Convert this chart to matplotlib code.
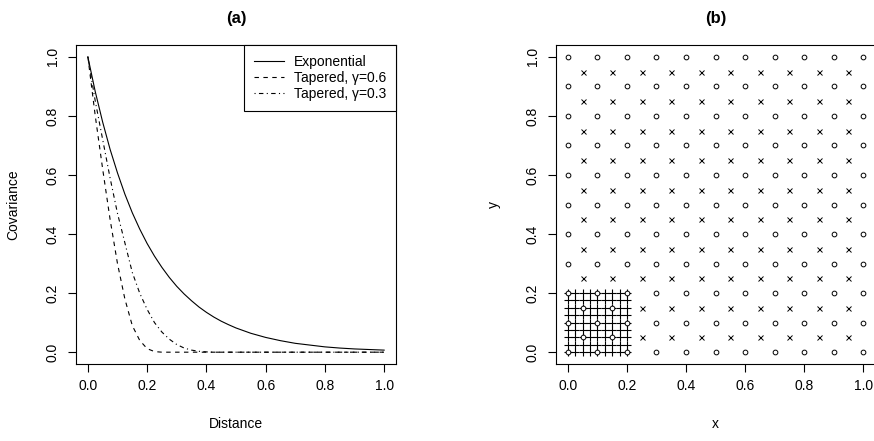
import numpy as np
import matplotlib
matplotlib.use("Agg")
import matplotlib.pyplot as plt

plt.rcParams['font.family'] = ['Liberation Sans', 'DejaVu Sans']
plt.rcParams['font.size'] = 10

# ---- panel (a): covariance curves ----
dist = [0.0, 0.025, 0.05, 0.075, 0.1, 0.125, 0.15, 0.175, 0.2, 0.225, 0.25,
        0.275, 0.3, 0.325, 0.35, 0.375, 0.4, 0.425, 0.45, 0.475, 0.5,
        0.55, 0.6, 0.65, 0.7, 0.75, 0.8, 0.85, 0.9, 0.95, 1.0]
cov_exp = [1.000, 0.882, 0.779, 0.687, 0.607, 0.535, 0.472, 0.417, 0.368, 0.325, 0.287,
           0.253, 0.223, 0.197, 0.174, 0.153, 0.135, 0.119, 0.105, 0.093, 0.082,
           0.064, 0.050, 0.039, 0.030, 0.024, 0.018, 0.014, 0.011, 0.009, 0.007]
cov_tap06 = [1.000, 0.800, 0.620, 0.450, 0.300, 0.180, 0.090, 0.040, 0.012, 0.002, 0.0,
             0.0, 0.0, 0.0, 0.0, 0.0, 0.0, 0.0, 0.0, 0.0, 0.0,
             0.0, 0.0, 0.0, 0.0, 0.0, 0.0, 0.0, 0.0, 0.0, 0.0]
cov_tap03 = [1.000, 0.850, 0.720, 0.590, 0.470, 0.370, 0.270, 0.200, 0.145, 0.100, 0.068,
             0.044, 0.026, 0.014, 0.007, 0.003, 0.001, 0.0, 0.0, 0.0, 0.0,
             0.0, 0.0, 0.0, 0.0, 0.0, 0.0, 0.0, 0.0, 0.0, 0.0]
legend_labels = ['Exponential', 'Tapered, γ=0.6', 'Tapered, γ=0.3']

# ---- panel (b): design points ----
coarse = [0.0, 0.1, 0.2, 0.3, 0.4, 0.5, 0.6, 0.7, 0.8, 0.9, 1.0]
offset = [0.05, 0.15, 0.25, 0.35, 0.45, 0.55, 0.65, 0.75, 0.85, 0.95]
box_fine = [0.0, 0.025, 0.05, 0.075, 0.1, 0.125, 0.15, 0.175, 0.2]
box_lim = 0.2

ticks = [0.0, 0.2, 0.4, 0.6, 0.8, 1.0]
tick_labels = ['0.0', '0.2', '0.4', '0.6', '0.8', '1.0']

W, H = 874, 441
fig = plt.figure(figsize=(W / 100, H / 100), dpi=100)


def px_axes(l, r, t, b):
    return fig.add_axes([l / W, 1 - b / H, (r - l) / W, (b - t) / H])


def r_style(ax, xlabel, ylabel, title):
    # base-R look: 4% padding, rotated y labels, outward ticks
    ax.set_xlim(-0.04, 1.04)
    ax.set_ylim(-0.04, 1.04)
    ax.set_xticks(ticks)
    ax.set_xticklabels(tick_labels)
    ax.set_yticks(ticks)
    ax.set_yticklabels(tick_labels, rotation=90, va='center')
    ax.tick_params(length=5.8, width=0.8, color='black')
    ax.tick_params(axis='x', pad=5)
    ax.tick_params(axis='y', pad=6)
    for s in ax.spines.values():
        s.set_linewidth(0.8)
    ax.set_xlabel(xlabel, labelpad=17)
    ax.set_ylabel(ylabel, labelpad=18)
    ax.set_title(title, fontweight='bold', fontsize=12, pad=16)


# (a)
ax1 = px_axes(76, 396, 45, 364)
ax1.plot(dist, cov_exp, color='black', lw=0.8, linestyle='-', label=legend_labels[0])
ax1.plot(dist, cov_tap06, color='black', lw=0.8, dashes=(4, 4), label=legend_labels[1])
ax1.plot(dist, cov_tap03, color='black', lw=0.8, dashes=(1, 3, 4, 3), label=legend_labels[2])
leg = ax1.legend(loc='upper right', borderaxespad=0, fancybox=False, framealpha=1,
                 edgecolor='black', handlelength=2.15, handletextpad=0.72,
                 borderpad=0.7, labelspacing=0.15)
leg.get_frame().set_linewidth(0.8)
r_style(ax1, 'Distance', 'Covariance', '(a)')

# (b)
ax2 = px_axes(556, 875, 45, 364)
fx, fy = np.meshgrid(box_fine, box_fine)
ax2.plot(fx.ravel(), fy.ravel(), linestyle='none', marker='+', ms=5.5, mew=0.8, color='black')

ox, oy = np.meshgrid(offset, offset)
ox, oy = ox.ravel(), oy.ravel()
inside = (ox < box_lim) & (oy < box_lim)
ax2.plot(ox[~inside], oy[~inside], linestyle='none', marker='x', ms=3.6, mew=0.7, color='black')

cx, cy = np.meshgrid(coarse, coarse)
circ_x = np.concatenate([cx.ravel(), ox[inside]])
circ_y = np.concatenate([cy.ravel(), oy[inside]])
ax2.plot(circ_x, circ_y, linestyle='none', marker='o', ms=3.4, mew=0.7,
         markeredgecolor='black', markerfacecolor='white')
r_style(ax2, 'x', 'y', '(b)')

fig.savefig('out.png', dpi=100)
